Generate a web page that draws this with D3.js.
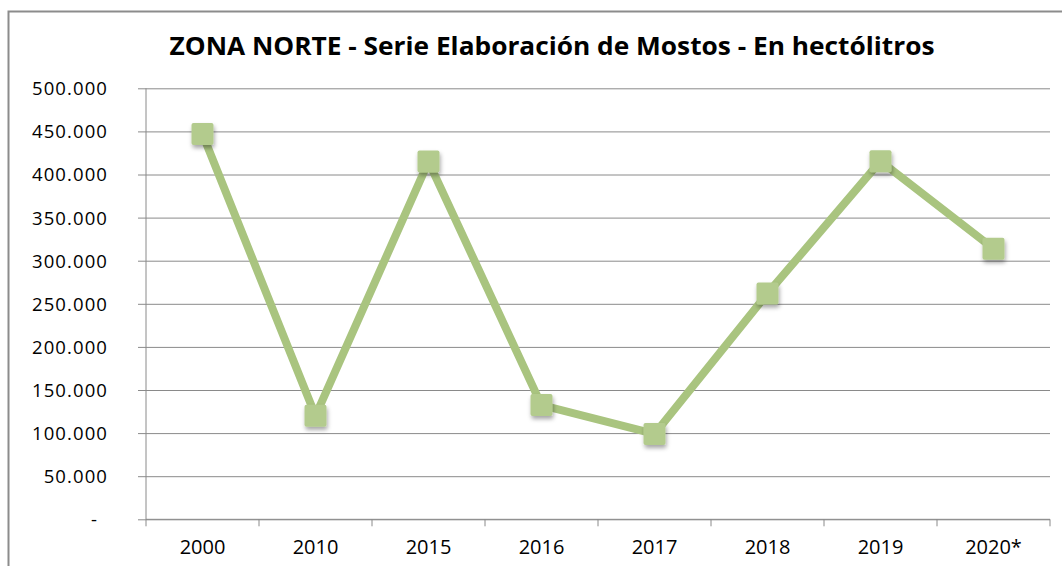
<!DOCTYPE html>
<html>
<head>
<style>
html, body {
    margin: 0;
    padding: 0;
    background: #fff;
    overflow: hidden;
}
svg text {
    font-family: "Open Sans", sans-serif;
    fill: #000;
}
</style>
</head>
<body>
<script src="https://d3js.org/d3.v7.min.js"></script>
<script>
const years = ["2000", "2010", "2015", "2016", "2017", "2018", "2019", "2020*"];
const mostos = [447000, 120000, 415000, 132500, 99000, 262000, 415500, 314000];
const yTicks = [0, 50000, 100000, 150000, 200000, 250000, 300000, 350000, 400000, 450000, 500000];
const title = "ZONA NORTE - Serie Elaboración de Mostos - En hectólitros";

const [width, height] = [1062, 566];
const plot = {left: 146, right: 1050, top: 88.3, bottom: 519.3};

const esLocale = d3.formatLocale({decimal: ",", thousands: ".", grouping: [3], currency: ["", ""]});
const fmt = v => v === 0 ? "-" : esLocale.format(",")(v);

const svg = d3.select("body").append("svg")
    .attr("width", width)
    .attr("height", height);

const defs = svg.append("defs");
defs.append("filter")
    .attr("id", "shadow")
    .attr("x", "-50%").attr("y", "-50%")
    .attr("width", "200%").attr("height", "200%")
  .append("feDropShadow")
    .attr("dx", 1)
    .attr("dy", 3)
    .attr("stdDeviation", 2)
    .attr("flood-color", "#000")
    .attr("flood-opacity", 0.35);

// chart frame (runs off the right and bottom of the picture)
svg.append("rect")
    .attr("x", 8.5).attr("y", 11.5)
    .attr("width", 1088).attr("height", 620)
    .attr("fill", "none")
    .attr("stroke", "#8c8c8c")
    .attr("stroke-width", 2);

svg.append("text")
    .attr("x", 552)
    .attr("y", 55)
    .attr("text-anchor", "middle")
    .attr("font-size", 25)
    .attr("font-weight", "bold")
    .attr("textLength", 765)
    .attr("lengthAdjust", "spacingAndGlyphs")
    .text(title);

const x = d3.scaleBand()
    .domain(years)
    .range([plot.left, plot.right]);

const y = d3.scaleLinear()
    .domain([0, 500000])
    .range([plot.bottom, plot.top]);

// y axis with gridlines
const yAxis = svg.append("g")
    .attr("transform", `translate(${plot.left},0)`)
    .call(d3.axisLeft(y)
        .tickValues(yTicks)
        .tickSize(-(plot.right - plot.left))
        .tickPadding(0)
        .tickFormat(fmt));
yAxis.select(".domain").remove();
yAxis.selectAll(".tick line")
    .attr("x1", -8)
    .attr("stroke", "#8a8a8a");
yAxis.selectAll(".tick text")
    .attr("x", d => d === 0 ? -48 : -38)
    .attr("dy", "0.35em")
    .attr("font-size", 18.5)
    .attr("letter-spacing", 1.1)
    .attr("fill", "#111");

svg.append("line")
    .attr("x1", plot.left).attr("x2", plot.left)
    .attr("y1", plot.top).attr("y2", plot.bottom)
    .attr("stroke", "#8a8a8a");

// x axis
const xAxis = svg.append("g")
    .attr("transform", `translate(0,${plot.bottom})`)
    .call(d3.axisBottom(x).tickSize(0).tickPadding(0));
xAxis.select(".domain")
    .attr("stroke", "#8a8a8a")
    .attr("d", `M${plot.left},0H${plot.right}`);
xAxis.selectAll(".tick text")
    .attr("y", 35)
    .attr("dy", 0)
    .attr("font-size", 20)
    .attr("fill", "#111");

svg.append("g")
    .selectAll("line")
    .data(d3.range(years.length + 1))
    .join("line")
        .attr("x1", i => plot.left + i * x.bandwidth())
        .attr("x2", i => plot.left + i * x.bandwidth())
        .attr("y1", plot.bottom)
        .attr("y2", plot.bottom + 7)
        .attr("stroke", "#8a8a8a");

const points = years.map((d, i) => ({year: d, value: mostos[i]}));
const cx = d => x(d.year) + x.bandwidth() / 2;

svg.append("path")
    .datum(points)
    .attr("fill", "none")
    .attr("stroke", "#a9c47f")
    .attr("stroke-width", 8)
    .attr("stroke-linejoin", "round")
    .attr("d", d3.line().x(cx).y(d => y(d.value)));

const size = 22;
svg.append("g")
    .attr("filter", "url(#shadow)")
    .selectAll("rect")
    .data(points)
    .join("rect")
        .attr("x", d => cx(d) - size / 2)
        .attr("y", d => y(d.value) - size / 2)
        .attr("width", size)
        .attr("height", size)
        .attr("rx", 2)
        .attr("fill", "#b3cb8d");
</script>
</body>
</html>
